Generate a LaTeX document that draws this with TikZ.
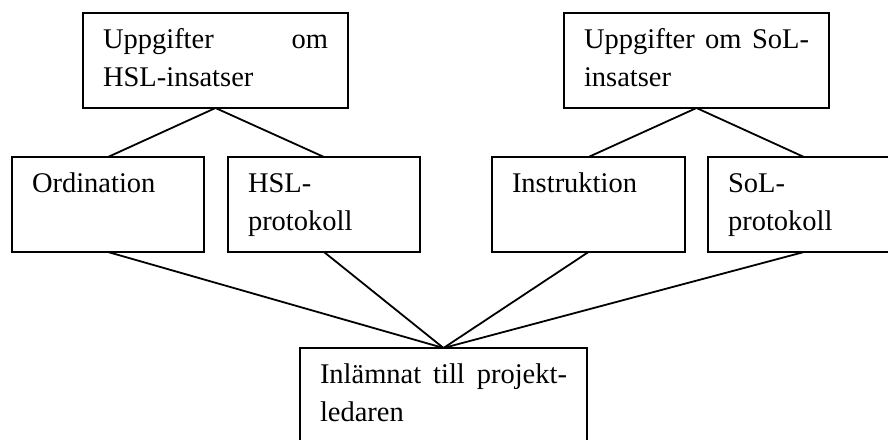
\documentclass[tikz,border=0pt]{standalone}
\usepackage{fontspec}
\setmainfont{Liberation Serif}
\newcommand\boxtxt[3]{\parbox[t][#1][t]{#2}{\fontsize{28.5}{38}\selectfont\rule{0pt}{35pt}#3}}
\tikzset{
  bx/.style={draw, line width=2pt, rectangle, anchor=north west, inner xsep=20pt, inner ysep=0pt, outer sep=0pt},
  conn/.style={line width=1.8pt}
}
\begin{document}
\begin{tikzpicture}[x=1pt,y=-1pt]
\useasboundingbox (0,0) rectangle (888,439);
\fill[white] (0,0) rectangle (888,439);
\node[bx] (tl) at (83,13) {\boxtxt{95pt}{225pt}{Uppgifter\hfill om\\HSL-insatser}};
\node[bx] (tr) at (564,13) {\boxtxt{95pt}{225pt}{Uppgifter\hfill om\hfill SoL-\\insatser}};
\node[bx] (ord) at (12,157) {\boxtxt{95pt}{152pt}{Ordination}};
\node[bx] (hsl) at (228,157) {\boxtxt{95pt}{152pt}{HSL-\\protokoll}};
\node[bx] (ins) at (492,157) {\boxtxt{95pt}{153pt}{Instruktion}};
\node[bx] (sol) at (708,157) {\boxtxt{95pt}{152pt}{SoL-\\protokoll}};
\node[bx] (bot) at (300,348) {\boxtxt{110pt}{247pt}{Inlämnat\hfill till\hfill projekt-\\ledaren}};
\draw[conn] (tl.south) -- (ord.north);
\draw[conn] (tl.south) -- (hsl.north);
\draw[conn] (tr.south) -- (ins.north);
\draw[conn] (tr.south) -- (sol.north);
\draw[conn] (ord.south) -- (bot.north);
\draw[conn] (hsl.south) -- (bot.north);
\draw[conn] (ins.south) -- (bot.north);
\draw[conn] (sol.south) -- (bot.north);
\end{tikzpicture}
\end{document}
